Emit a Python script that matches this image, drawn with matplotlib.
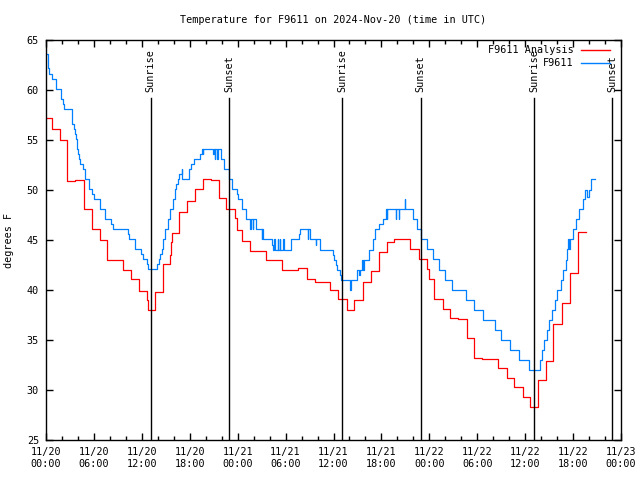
import numpy as np
import pandas as pd
import matplotlib
matplotlib.use('Agg')
import matplotlib.pyplot as plt
import matplotlib.dates as mdates

START = pd.Timestamp('2024-11-20 00:00')

# observed temperature (hours after start, degrees F)
obs_hours = [0.0, 0.2, 0.4, 0.7, 1.2, 1.9, 2.1, 2.3, 3.2, 3.3, 3.5, 3.6, 3.7, 3.85, 4.0, 4.1, 4.3, 4.6,
             4.9, 5.4, 5.8, 6.0, 6.7, 7.4, 8.2, 8.4, 10.3, 10.4, 11.1, 11.9, 12.1, 12.7, 12.8, 13.9,
             14.1, 14.3, 14.5, 14.7, 14.9, 15.3, 15.5, 15.9, 16.2, 16.3, 16.5, 16.7, 17.0, 17.05, 17.9,
             18.2, 18.5, 19.25, 19.5, 19.6, 19.7, 20.95, 21.0, 21.1, 21.2, 21.45, 21.5, 21.96, 22.25,
             22.9, 23.3, 23.9, 24.0, 24.6, 25.0, 25.6, 25.65, 25.9, 25.95, 26.25, 27.0, 27.05, 27.2,
             28.3, 28.4, 28.6, 28.65, 29.0, 29.05, 29.3, 29.35, 29.7, 29.75, 30.7, 31.7, 31.8, 32.8,
             32.85, 33.0, 33.8, 33.85, 34.25, 35.9, 36.1, 36.3, 36.5, 36.8, 36.95, 38.1, 38.15, 38.9,
             39.0, 39.2, 39.3, 39.6, 39.7, 39.8, 40.4, 41.0, 41.25, 41.75, 42.2, 42.6, 42.7, 42.75,
             43.8, 43.85, 44.2, 44.25, 44.9, 45.0, 45.9, 46.5, 46.96, 47.7, 48.4, 49.25, 50.0, 50.8,
             50.85, 50.9, 52.6, 53.6, 54.67, 56.2, 56.96, 58.1, 59.2, 60.5, 61.8, 62.05, 62.4, 62.7,
             63.0, 63.4, 63.75, 64.0, 64.5, 64.75, 65.1, 65.3, 65.4, 65.45, 65.6, 66.0, 66.4, 66.8,
             67.2, 67.5, 67.7, 68.0, 68.25, 68.3, 68.7]
obs_temp = [63.6, 62.2, 61.6, 61.1, 60.1, 59.1, 58.6, 58.1, 57.1, 56.6, 56.1, 55.6, 55.1, 54.1, 53.6, 53.1, 52.6, 52.1,
            51.1, 50.1, 49.6, 49.1, 48.1, 47.1, 46.6, 46.1, 45.6, 45.1, 44.1, 43.6, 43.1, 42.6, 42.1, 42.6,
            43.1, 43.6, 44.1, 45.1, 46.1, 47.1, 48.1, 49.1, 50.1, 50.6, 51.1, 51.6, 52.1, 51.1, 52.1,
            52.6, 53.1, 53.6, 54.1, 53.6, 54.1, 53.6, 54.1, 53.1, 54.1, 53.1, 54.1, 53.1, 52.1,
            51.1, 50.1, 49.6, 49.1, 48.1, 47.1, 46.1, 47.1, 46.1, 47.1, 46.1, 45.1, 46.1, 45.1,
            44.5, 44.0, 45.1, 44.0, 45.1, 44.0, 45.1, 44.0, 45.1, 44.0, 45.1, 45.6, 46.1, 45.1,
            46.1, 45.1, 44.5, 45.1, 44.0, 43.5, 43.0, 42.5, 42.0, 41.5, 41.0, 40.0, 41.0, 41.5,
            42.0, 41.5, 42.0, 43.0, 42.0, 43.0, 44.0, 45.1, 46.1, 46.6, 47.1, 48.1, 47.1, 48.1,
            47.1, 48.1, 47.1, 48.1, 49.1, 48.1, 47.1, 46.1, 45.1, 44.1, 43.1, 42.0, 41.0, 40.0,
            41.0, 40.0, 39.0, 38.0, 37.0, 36.0, 35.0, 34.0, 33.0, 32.0, 33.0, 34.0, 35.0, 36.0,
            37.0, 38.0, 39.0, 40.0, 41.0, 42.0, 43.0, 44.1, 45.1, 44.1, 45.1, 46.1, 47.1, 48.1,
            49.1, 50.0, 49.3, 50.0, 50.7, 51.1, 51.1]

# hourly analysis
ana_hours = [0.0, 0.7, 1.7, 2.6, 3.6, 4.7, 5.7, 6.7, 7.7, 9.7, 10.7, 11.7, 12.6, 12.8, 13.6, 13.7,
             14.6, 14.7, 15.5, 15.7, 15.8, 16.7, 17.6, 18.6, 19.6, 20.6, 21.6, 22.6, 23.7, 23.9,
             24.6, 25.6, 27.6, 29.6, 31.6, 32.7, 33.7, 35.6, 36.6, 37.7, 38.6, 39.7, 40.7, 41.75,
             42.7, 43.6, 45.6, 46.7, 47.7, 47.9, 48.6, 49.7, 50.6, 51.6, 52.7, 53.6, 54.6, 56.6,
             57.7, 58.6, 59.7, 60.6, 61.6, 62.6, 63.5, 64.6, 65.6, 66.6, 67.6]
ana_temp = [57.2, 56.1, 55.0, 50.9, 51.0, 48.1, 46.1, 45.0, 43.0, 42.0, 41.1, 39.9, 39.0, 38.0, 39.0, 39.8,
            41.2, 42.6, 43.5, 44.8, 45.7, 47.8, 48.9, 50.1, 51.1, 51.0, 49.2, 48.1, 47.2, 46.0,
            44.9, 43.9, 43.0, 42.0, 42.2, 41.1, 40.8, 40.0, 39.1, 38.0, 39.0, 40.8, 41.9, 43.8,
            44.8, 45.1, 44.1, 43.1, 42.1, 41.1, 39.1, 38.1, 37.2, 37.1, 35.2, 33.2, 33.1, 32.2,
            31.2, 30.3, 29.3, 28.3, 31.0, 32.9, 36.6, 38.7, 41.7, 45.8, 45.8]

sunrise_hours = [13.1, 37.1, 61.1]
sunset_hours = [22.9, 46.9, 70.9]

FONT = 'DejaVu Sans Mono'
plt.rcParams['font.family'] = FONT
plt.rcParams['font.size'] = 7.3


def to_time(hours):
    return START + pd.to_timedelta(np.asarray(hours), unit='h')


fig = plt.figure(figsize=(6.4, 4.8), dpi=100)
ax = fig.add_axes([46 / 640, 40 / 480, 575 / 640, 400 / 480])

ax.plot(to_time(ana_hours), ana_temp, drawstyle='steps-post', color='#ff0000', lw=0.9)
ax.plot(to_time(obs_hours), obs_temp, drawstyle='steps-post', color='#0080ff', lw=0.9)

for hours, label in [(sunrise_hours, 'Sunrise'), (sunset_hours, 'Sunset')]:
    for t in to_time(hours):
        ax.axvline(t, ymin=0, ymax=0.855, color='black', lw=1.0)
        ax.text(t, 0.87, label, rotation=90, ha='center', va='bottom',
                transform=ax.get_xaxis_transform(), fontsize=7.3)

# legend, gnuplot style (text right aligned, sample on the right)
for row, (name, col) in enumerate([('F9611 Analysis', '#ff0000'), ('F9611', '#0080ff')]):
    yy = 0.975 - row * 0.0325
    ax.text(0.918, yy, name, ha='right', va='center', transform=ax.transAxes)
    ax.plot([0.930, 0.981], [yy, yy], color=col, lw=1.0, transform=ax.transAxes)

ax.set_xlim(START, START + pd.Timedelta(hours=72))
ax.set_ylim(25, 65)
ax.set_yticks(np.arange(25, 66, 5))
ax.xaxis.set_major_locator(mdates.HourLocator(byhour=range(0, 24, 6)))
ax.xaxis.set_minor_locator(mdates.HourLocator(byhour=range(0, 24, 2)))
ax.xaxis.set_major_formatter(mdates.DateFormatter('%m/%d\n%H:%M'))
ax.tick_params(axis='both', which='major', direction='in', length=5, width=1,
               top=True, right=True, labelsize=7.3, pad=5)
ax.tick_params(axis='x', which='minor', direction='in', length=3, width=1, top=True)
for s in ax.spines.values():
    s.set_linewidth(1.0)

ax.set_title('Temperature for F9611 on 2024-Nov-20 (time in UTC)', fontsize=7.3, pad=12)
ax.set_ylabel('degrees F', fontsize=7.3, labelpad=9)

fig.savefig('out.png', dpi=100)
